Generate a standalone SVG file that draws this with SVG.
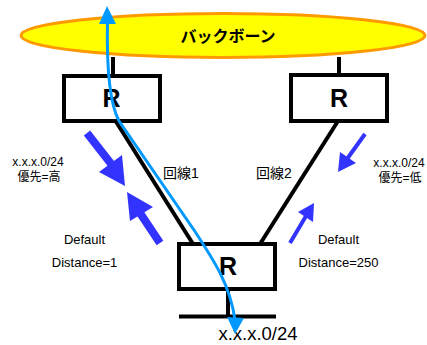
<svg xmlns="http://www.w3.org/2000/svg" width="427" height="345" viewBox="0 0 427 345">
<style>
.box{fill:#fff;stroke:#000;stroke-width:4}
.wire{stroke:#000;stroke-width:4;fill:none}
.r{font-family:"Liberation Sans",Arial,sans-serif;font-weight:bold;font-size:25px;text-anchor:middle}
.t{font-family:"Liberation Sans","Noto Sans CJK JP",sans-serif;font-size:12px;text-anchor:middle;fill:#000}
.t13{font-family:"Liberation Sans","Noto Sans CJK JP",sans-serif;font-size:13px;text-anchor:middle;fill:#000}
.big{font-family:"Liberation Sans","Noto Sans CJK JP",sans-serif;font-size:14px;fill:#000}
.ann{fill:#3333FF;stroke:none}
.annl{stroke:#3333FF;fill:none}
</style>
<g id="connectors">
<line class="wire" x1="113" y1="57" x2="113" y2="76" stroke-width="3"/>
<line class="wire" x1="339" y1="57" x2="339" y2="76" stroke-width="3"/>
<line class="wire" x1="115" y1="120" x2="193" y2="244"/>
<line class="wire" x1="338" y1="121" x2="260" y2="244"/>
<line class="wire" x1="228" y1="289" x2="228" y2="317" stroke-width="3"/>
</g>
<g id="backbone">
<ellipse cx="223" cy="35.5" rx="202" ry="22" fill="#FFFF00" stroke="#FF9900" stroke-width="3"/>
<text x="228" y="42" font-family="'Noto Sans CJK JP',sans-serif" font-weight="bold" font-size="16" text-anchor="middle">バックボーン</text>
</g>
<g id="router1">
<rect class="box" x="64" y="76" width="96" height="45"/>
<text class="r" x="111.5" y="107">R</text>
</g>
<g id="router2">
<rect class="box" x="291" y="75" width="96" height="46"/>
<text class="r" x="339" y="107">R</text>
</g>
<g id="router3">
<rect class="box" x="179" y="244" width="96" height="45"/>
<text class="r" x="228" y="275">R</text>
</g>
<g id="lan">
<line x1="179" y1="316.5" x2="276" y2="316.5" stroke="#000" stroke-width="4"/>
<text x="258" y="340" font-family="'Liberation Sans',Arial,sans-serif" font-size="18.5" text-anchor="middle">x.x.x.0/24</text>
</g>
<g id="labels">
<text class="t" x="38" y="166">x.x.x.0/24</text>
<text class="t" x="39" y="181">優先=高</text>
<text class="t" x="399" y="167">x.x.x.0/24</text>
<text class="t" x="400" y="182">優先=低</text>
<text class="big" x="163" y="178">回線1</text>
<text class="big" x="256" y="178">回線2</text>
<text class="t13" x="84.5" y="244">Default</text>
<text class="t13" x="84.5" y="267">Distance=1</text>
<text class="t13" x="338.5" y="244">Default</text>
<text class="t13" x="338.5" y="267">Distance=250</text>
</g>
<g id="annotations">
<line class="annl" x1="87" y1="133" x2="112" y2="165" stroke-width="8"/>
<polygon class="ann" points="125,186 99,172 122,155"/>
<line class="annl" x1="160" y1="243" x2="140" y2="213" stroke-width="8"/>
<polygon class="ann" points="127,192 130,221 153,207"/>
<line class="annl" x1="365" y1="134" x2="347" y2="159" stroke-width="4"/>
<polygon class="ann" points="338,172 340,152 356,163"/>
<line class="annl" x1="290" y1="243" x2="306" y2="216" stroke-width="4"/>
<polygon class="ann" points="314,203 298,212 313,222"/>
</g>
<g id="path-flow">
<path d="M107.5,22 C106.5,70 110,104 119,121 L194,230 C215,262 230,285 235,320" fill="none" stroke="#0099FF" stroke-width="3"/>
<polygon points="107,6 99,24 116,24" fill="#0099FF"/>
<polygon points="235,334 227,317 244,318" fill="#0099FF"/>
</g>
</svg>
